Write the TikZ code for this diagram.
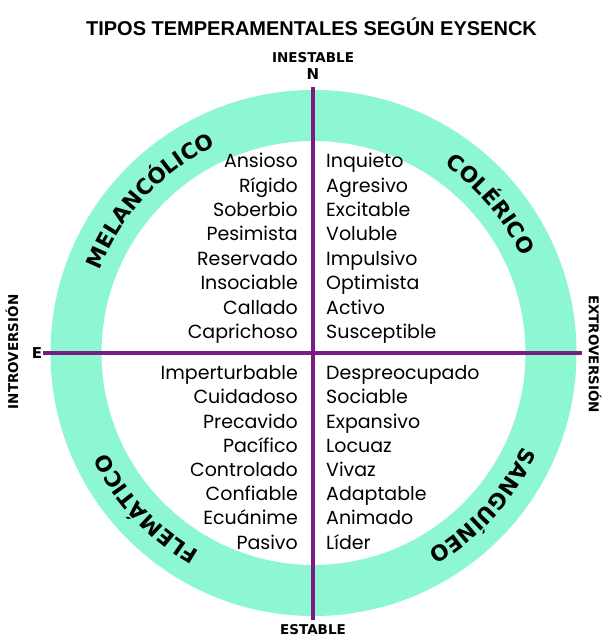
\documentclass[tikz,border=0pt]{standalone}
\usepackage{fontspec}
\setmainfont{Poppins}
\newfontfamily\headfont{Liberation Sans}
\newfontfamily\heavyfont{DejaVu Sans}
\usetikzlibrary{decorations.text}

\definecolor{ringgreen}{RGB}{140,247,208}
\definecolor{axispurple}{RGB}{122,28,128}

\tikzset{
  word/.style={font=\fontsize{19}{19}\selectfont, inner sep=0pt},
  leftword/.style={word, anchor=mid east},
  rightword/.style={word, anchor=mid west},
  axislabel/.style={font=\heavyfont\bfseries\fontsize{13.5}{13.5}\selectfont, inner sep=0pt},
  typelabel/.style={decorate, decoration={text along path, text align=center,
      text={|\heavyfont\bfseries\fontsize{21.5}{21.5}\selectfont|#1}}}
}

\begin{document}
\begin{tikzpicture}[x=1pt,y=1pt]
    \useasboundingbox (0,0) rectangle (603,640);

    \coordinate (c) at (313.5,287);
    \fill[ringgreen, even odd rule] (c) circle (263pt) (c) circle (212pt);

    % tipos
    \path[typelabel=MELANCÓLICO] (c) ++(172:229pt) arc[start angle=172, end angle=102, radius=229pt];
    \path[typelabel=COLÉRICO] (c) ++(75:229pt) arc[start angle=75, end angle=5, radius=229pt];
    \path[typelabel=FLEMÁTICO] (c) ++(258:229pt) arc[start angle=258, end angle=188, radius=229pt];
    \path[typelabel=SANGUÍNEO] (c) ++(-7:229pt) arc[start angle=-7, end angle=-77, radius=229pt];

    % ejes
    \coordinate (top) at (313,553);
    \coordinate (bottom) at (313,20);
    \coordinate (left) at (43,287);
    \coordinate (right) at (582,287);
    \draw[axispurple, line width=3.5pt] (left) -- (right);
    \draw[axispurple, line width=3.5pt] (top) -- (bottom);

    \node[font=\headfont\bfseries\fontsize{20}{20}\selectfont] (title) at (311.5,613) {TIPOS TEMPERAMENTALES SEGÚN EYSENCK};
    \node[axislabel] (inestable) at (313,582) {INESTABLE};
    \node[axislabel, font=\heavyfont\bfseries\fontsize{15}{15}\selectfont] (n) at (313,566) {N};
    \node[axislabel] (estable) at (313,10) {ESTABLE};
    \node[axislabel, font=\heavyfont\bfseries\fontsize{15}{15}\selectfont] (e) at (37,287) {E};
    \node[axislabel, rotate=90] (intro) at (12,288) {INTROVERSIÓN};
    \node[axislabel, rotate=-90] (extro) at (595,286) {EXTROVERSIÓN};

    % melancolico
    \node[leftword] (m1) at (298,475) {Ansioso};
    \node[leftword] (m2) at (298,450.6) {Rígido};
    \node[leftword] (m3) at (298,426.2) {Soberbio};
    \node[leftword] (m4) at (298,401.8) {Pesimista};
    \node[leftword] (m5) at (298,377.4) {Reservado};
    \node[leftword] (m6) at (298,353) {Insociable};
    \node[leftword] (m7) at (298,328.6) {Callado};
    \node[leftword] (m8) at (298,304.2) {Caprichoso};

    % colerico
    \node[rightword] (c1) at (326,475) {Inquieto};
    \node[rightword] (c2) at (326,450.6) {Agresivo};
    \node[rightword] (c3) at (326,426.2) {Excitable};
    \node[rightword] (c4) at (326,401.8) {Voluble};
    \node[rightword] (c5) at (326,377.4) {Impulsivo};
    \node[rightword] (c6) at (326,353) {Optimista};
    \node[rightword] (c7) at (326,328.6) {Activo};
    \node[rightword] (c8) at (326,304.2) {Susceptible};

    % flematico
    \node[leftword] (f1) at (298,263) {Imperturbable};
    \node[leftword] (f2) at (298,238.8) {Cuidadoso};
    \node[leftword] (f3) at (298,214.6) {Precavido};
    \node[leftword] (f4) at (298,190.4) {Pacífico};
    \node[leftword] (f5) at (298,166.2) {Controlado};
    \node[leftword] (f6) at (298,142) {Confiable};
    \node[leftword] (f7) at (298,117.8) {Ecuánime};
    \node[leftword] (f8) at (298,93.6) {Pasivo};

    % sanguineo
    \node[rightword] (s1) at (326,263) {Despreocupado};
    \node[rightword] (s2) at (326,238.8) {Sociable};
    \node[rightword] (s3) at (326,214.6) {Expansivo};
    \node[rightword] (s4) at (326,190.4) {Locuaz};
    \node[rightword] (s5) at (326,166.2) {Vivaz};
    \node[rightword] (s6) at (326,142) {Adaptable};
    \node[rightword] (s7) at (326,117.8) {Animado};
    \node[rightword] (s8) at (326,93.6) {Líder};
\end{tikzpicture}
\end{document}
